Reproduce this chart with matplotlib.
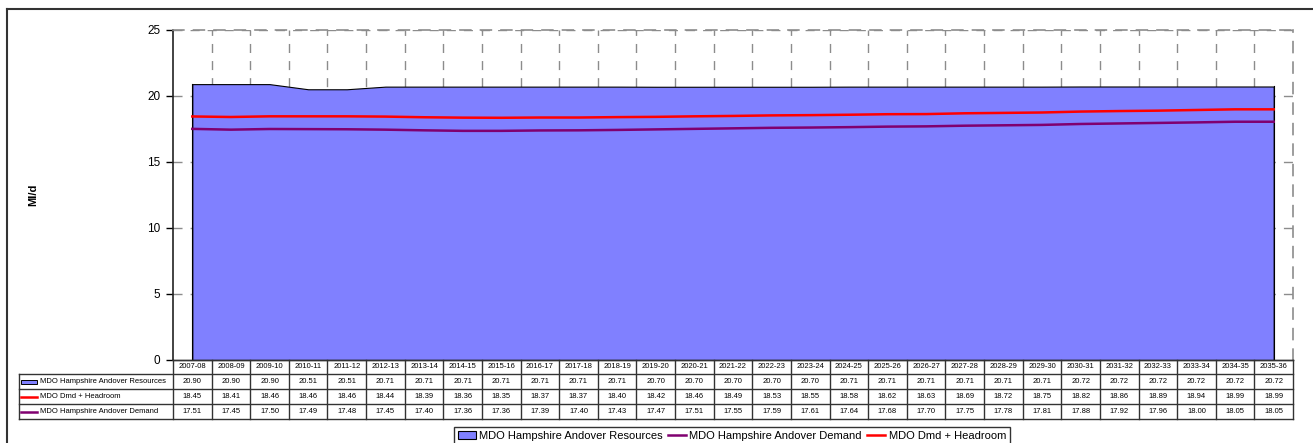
import matplotlib
matplotlib.use("Agg")
import matplotlib.pyplot as plt
import matplotlib.transforms as mtransforms
from matplotlib.patches import Rectangle
from matplotlib.lines import Line2D
import numpy as np

plt.rcParams['font.family'] = ['Liberation Sans', 'DejaVu Sans']

years = ["2007-08", "2008-09", "2009-10", "2010-11", "2011-12", "2012-13", "2013-14",
         "2014-15", "2015-16", "2016-17", "2017-18", "2018-19", "2019-20", "2020-21",
         "2021-22", "2022-23", "2023-24", "2024-25", "2025-26", "2026-27", "2027-28",
         "2028-29", "2029-30", "2030-31", "2031-32", "2032-33", "2033-34", "2034-35",
         "2035-36"]
resources = [20.90, 20.90, 20.90, 20.51, 20.51, 20.71, 20.71, 20.71, 20.71, 20.71,
             20.71, 20.71, 20.70, 20.70, 20.70, 20.70, 20.70, 20.71, 20.71, 20.71,
             20.71, 20.71, 20.71, 20.72, 20.72, 20.72, 20.72, 20.72, 20.72]
headroom = [18.45, 18.41, 18.46, 18.46, 18.46, 18.44, 18.39, 18.36, 18.35, 18.37,
            18.37, 18.40, 18.42, 18.46, 18.49, 18.53, 18.55, 18.58, 18.62, 18.63,
            18.69, 18.72, 18.75, 18.82, 18.86, 18.89, 18.94, 18.99, 18.99]
demand = [17.51, 17.45, 17.50, 17.49, 17.48, 17.45, 17.40, 17.36, 17.36, 17.39,
          17.40, 17.43, 17.47, 17.51, 17.55, 17.59, 17.61, 17.64, 17.68, 17.70,
          17.75, 17.78, 17.81, 17.88, 17.92, 17.96, 18.00, 18.05, 18.05]

lbl_res = "MDO Hampshire Andover Resources"
lbl_head = "MDO Dmd + Headroom"
lbl_dem = "MDO Hampshire Andover Demand"

RES_COLOR = "#8080FF"
HEAD_COLOR = "#FF0000"
DEM_COLOR = "#800070"
GRID_COLOR = "#8C8C8C"

W, H = 1313, 443
fig = plt.figure(figsize=(W / 100, H / 100), dpi=100)


def fx(px):
    return px / W


def fy(py):
    return 1 - py / H


# plot area
ax = fig.add_axes([fx(173), fy(360), fx(1293) - fx(173), fy(30) - fy(360)])
x = np.arange(len(years))
ax.set_xlim(-0.5, len(years) - 0.5)
ax.set_ylim(0, 25)

dash = (0, (6.5, 5.8))
for v in range(5, 26, 5):
    ax.axhline(v, color=GRID_COLOR, lw=1.0, ls=dash, zorder=0)
for b in np.arange(0.5, len(years) - 0.5, 1.0):
    ax.axvline(b, color=GRID_COLOR, lw=1.0, ls=dash, zorder=0)

ax.fill_between(x, 0, resources, facecolor=RES_COLOR, edgecolor="black", lw=0.8, zorder=2)
ax.plot([x[0], x[0]], [0, resources[0]], color="black", lw=0.8, zorder=2)
ax.plot([x[-1], x[-1]], [0, resources[-1]], color="black", lw=0.8, zorder=2)
ax.plot(x, demand, color=DEM_COLOR, lw=1.8, zorder=3)
ax.plot(x, headroom, color=HEAD_COLOR, lw=1.8, zorder=3)

ax.set_yticks(range(0, 26, 5))
ax.set_xticks([])
ax.tick_params(axis="y", direction="out", length=5, width=1, labelsize=8.5, pad=4,
               colors="black")
for s in ("top", "right"):
    ax.spines[s].set_color(GRID_COLOR)
    ax.spines[s].set_linestyle(dash)
    ax.spines[s].set_linewidth(1.2)
ax.spines["left"].set_color("#222222")
ax.spines["left"].set_linewidth(1.2)
ax.spines["bottom"].set_color("#222222")
ax.spines["bottom"].set_linewidth(1.0)

fig.text(fx(33), fy(195), "Ml/d", rotation=90, fontsize=8, fontweight="bold",
         ha="center", va="center")

# data table beneath the axis
trans = mtransforms.blended_transform_factory(ax.transData, fig.transFigure)
rows_y = [360, 374, 389, 404, 419]
line_kw = dict(color="#333333", lw=1.0)
left_px = 19
right_px = 1293
for i, yy in enumerate(rows_y):
    start = 173 if i == 0 else left_px
    fig.add_artist(Line2D([fx(start), fx(right_px)], [fy(yy), fy(yy)], **line_kw))
for b in np.arange(-0.5, len(years), 1.0):
    fig.add_artist(Line2D([b, b], [fy(rows_y[0]), fy(rows_y[-1])], transform=trans, **line_kw))
fig.add_artist(Line2D([fx(left_px), fx(left_px)], [fy(rows_y[1]), fy(rows_y[-1])], **line_kw))

centers = [(rows_y[k] + rows_y[k + 1]) / 2 for k in range(4)]
tfs = 5.5
for i, yr in enumerate(years):
    fig.text(i, fy(centers[0]), yr, transform=trans, ha="center", va="center", fontsize=tfs)
    fig.text(i, fy(centers[1]), f"{resources[i]:.2f}", transform=trans, ha="center",
             va="center", fontsize=tfs)
    fig.text(i, fy(centers[2]), f"{headroom[i]:.2f}", transform=trans, ha="center",
             va="center", fontsize=tfs)
    fig.text(i, fy(centers[3]), f"{demand[i]:.2f}", transform=trans, ha="center",
             va="center", fontsize=tfs)

# row keys and labels
fig.add_artist(Rectangle((fx(21), fy(centers[1] + 2)), fx(37) - fx(21), fy(0) - fy(4),
                         facecolor=RES_COLOR, edgecolor="black", lw=0.7))
fig.add_artist(Line2D([fx(21), fx(37)], [fy(centers[2])] * 2, color=HEAD_COLOR, lw=1.8))
fig.add_artist(Line2D([fx(21), fx(37)], [fy(centers[3])] * 2, color=DEM_COLOR, lw=1.8))
for k, lab in zip((1, 2, 3), (lbl_res, lbl_head, lbl_dem)):
    fig.text(fx(40), fy(centers[k]), lab, ha="left", va="center", fontsize=tfs)

# legend
handles = [Rectangle((0, 0), 1, 1, facecolor=RES_COLOR, edgecolor="black", lw=0.8),
           Line2D([], [], color=DEM_COLOR, lw=1.8),
           Line2D([], [], color=HEAD_COLOR, lw=1.8)]
leg = fig.legend(handles, [lbl_res, lbl_dem, lbl_head], ncol=3, loc="upper center",
                 bbox_to_anchor=(fx(732), fy(427)), fontsize=8, frameon=True,
                 fancybox=False, edgecolor="black", handlelength=1.6, handleheight=0.6,
                 handletextpad=0.3, columnspacing=0.5, borderpad=0.35,
                 borderaxespad=0)
leg.get_frame().set_linewidth(1.0)

# outer chart border
fig.add_artist(Line2D([fx(7), fx(W + 5)], [fy(9), fy(9)], color="#333333", lw=1.5))
fig.add_artist(Line2D([fx(7), fx(7)], [fy(9), fy(H + 5)], color="#333333", lw=1.5))

fig.savefig("out.png", dpi=100)
